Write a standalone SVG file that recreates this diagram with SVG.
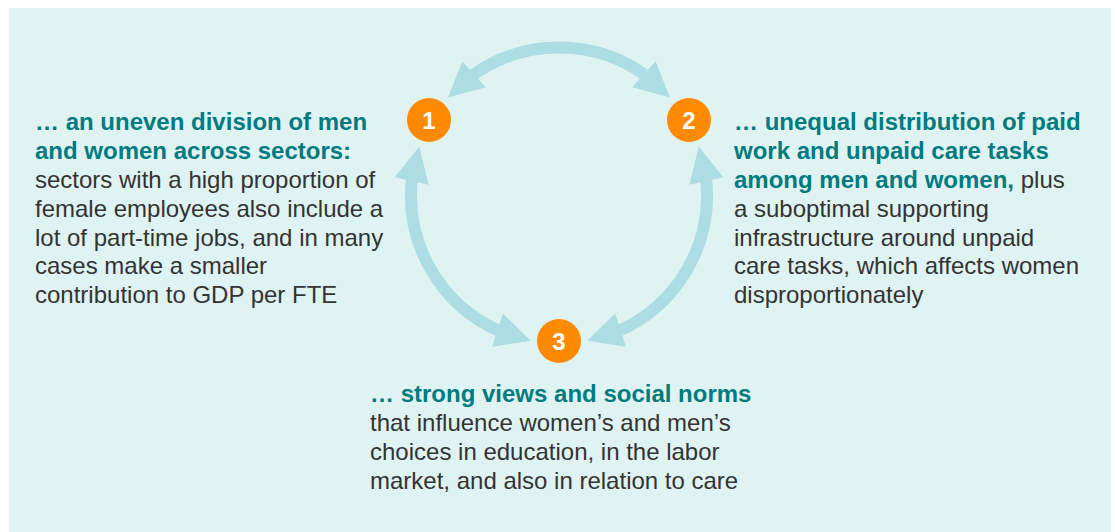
<svg xmlns="http://www.w3.org/2000/svg" width="1115" height="532" viewBox="0 0 1115 532">
<style>
.bg{fill:#e0f3f3}
.arc{fill:none;stroke:#acdde2;stroke-width:12}
.head{fill:#acdde2}
.dot{fill:#ff8a00}
.num{font-family:"Liberation Sans",Arial,sans-serif;font-weight:bold;font-size:24px;fill:#ffffff;text-anchor:middle}
.txt{font-family:"Liberation Sans",Arial,sans-serif;font-size:24px;fill:#333333}
.b{font-weight:bold;fill:#007b80}
</style>
<defs>
<polygon id="ah" class="head" points="0,0 -35,-17.5 -35,17.5"/>
</defs>
<rect class="bg" x="9" y="8" width="1102" height="524"/>
<g id="connectors">
<path class="arc" d="M469.9,77.3 A148,148 0 0 1 648.1,77.3"/>
<path class="arc" d="M412.3,175.9 A148,148 0 0 0 502.1,332.1"/>
<path class="arc" d="M705.7,175.9 A148,148 0 0 1 615.9,332.1"/>
<use href="#ah" transform="translate(448,97.6) rotate(138.2)"/>
<use href="#ah" transform="translate(670,97.6) rotate(41.8)"/>
<use href="#ah" transform="translate(419.2,146.8) rotate(282.4)"/>
<use href="#ah" transform="translate(698.8,146.8) rotate(257.6)"/>
<use href="#ah" transform="translate(530.8,340.8) rotate(17.8)"/>
<use href="#ah" transform="translate(587.2,340.8) rotate(162.2)"/>
</g>
<g id="node1">
<circle class="dot" cx="429" cy="120" r="22"/>
<text class="num" x="429" y="128.5">1</text>
<text class="txt" x="35" y="130">
<tspan class="b" x="35" y="130">… an uneven division of men</tspan>
<tspan class="b" x="35" y="159">and women across sectors:</tspan>
<tspan x="35" y="188">sectors with a high proportion of</tspan>
<tspan x="35" y="217">female employees also include a</tspan>
<tspan x="35" y="246">lot of part-time jobs, and in many</tspan>
<tspan x="35" y="274">cases make a smaller</tspan>
<tspan x="35" y="303">contribution to GDP per FTE</tspan>
</text>
</g>
<g id="node2">
<circle class="dot" cx="689" cy="120" r="22"/>
<text class="num" x="689" y="128.5">2</text>
<text class="txt" x="734" y="130">
<tspan class="b" x="734" y="130">… unequal distribution of paid</tspan>
<tspan class="b" x="734" y="159">work and unpaid care tasks</tspan>
<tspan class="b" x="734" y="188">among men and women,</tspan><tspan> plus</tspan>
<tspan x="734" y="217">a suboptimal supporting</tspan>
<tspan x="734" y="246">infrastructure around unpaid</tspan>
<tspan x="734" y="274">care tasks, which affects women</tspan>
<tspan x="734" y="303">disproportionately</tspan>
</text>
</g>
<g id="node3">
<circle class="dot" cx="559" cy="341" r="22"/>
<text class="num" x="559" y="349.5">3</text>
<text class="txt" x="370" y="402">
<tspan class="b" x="370" y="402">… strong views and social norms</tspan>
<tspan x="370" y="431">that influence women’s and men’s</tspan>
<tspan x="370" y="460">choices in education, in the labor</tspan>
<tspan x="370" y="489">market, and also in relation to care</tspan>
</text>
</g>
</svg>
